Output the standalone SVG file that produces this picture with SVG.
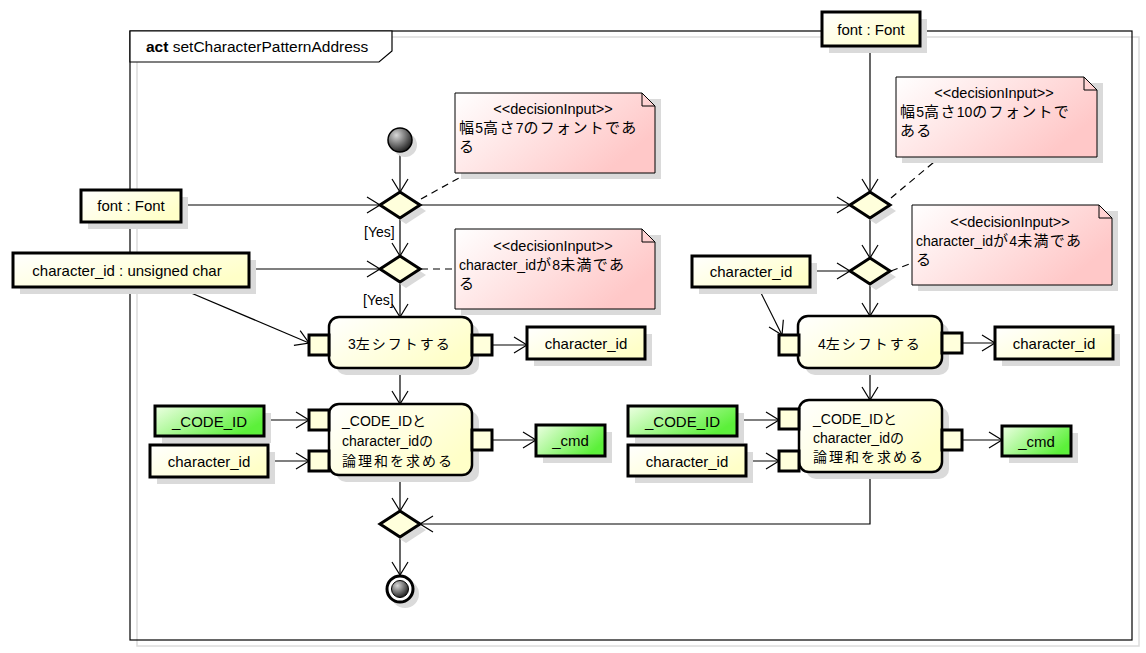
<svg xmlns="http://www.w3.org/2000/svg" width="1146" height="653" viewBox="0 0 1146 653">
<defs>
<style>
text{font-family:"Liberation Sans","Noto Sans CJK JP",sans-serif;fill:#000}
.cj{font-family:"Noto Sans CJK JP","Liberation Sans",sans-serif}
.ncj{font-size:15px;letter-spacing:1.3px}
.acj{font-size:14px;letter-spacing:2px}
.sh{fill:#dadada;stroke:none}
.obj{fill:url(#gy);stroke:#000;stroke-width:3}
.objg{fill:url(#gg);stroke:#000;stroke-width:3}
.act{fill:url(#gy);stroke:#000;stroke-width:2.5}
.pin{fill:#ffffdc;stroke:#000;stroke-width:3}
.dec{fill:#ffffdc;stroke:#000;stroke-width:3;stroke-linejoin:miter}
.note{fill:url(#gn);stroke:#000;stroke-width:1}
.ot{font-size:15px;text-anchor:middle}
.at{font-size:14px}
.st{font-size:14.5px;text-anchor:middle}
.nt{font-size:14px}
.c{fill:none;stroke:#000;stroke-width:1.2}
.d{fill:none;stroke:#000;stroke-width:1.2;stroke-dasharray:7,5}
</style>
<linearGradient id="gy" x1="0" y1="0" x2="1" y2="0.6">
<stop offset="0" stop-color="#ffffff"/><stop offset="1" stop-color="#ffffc8"/>
</linearGradient>
<linearGradient id="gg" x1="0" y1="0" x2="1" y2="0.5">
<stop offset="0" stop-color="#eeffe4"/><stop offset="1" stop-color="#5cf03a"/>
</linearGradient>
<linearGradient id="gn" x1="0" y1="0" x2="1" y2="0.5">
<stop offset="0" stop-color="#ffffff"/><stop offset="1" stop-color="#ffc8c8"/>
</linearGradient>
<radialGradient id="gi" cx="0.35" cy="0.3" r="0.75">
<stop offset="0" stop-color="#d8d8d8"/><stop offset="1" stop-color="#1a1a1a"/>
</radialGradient>
<marker id="arr" markerUnits="userSpaceOnUse" markerWidth="16" markerHeight="20" viewBox="-14 -10 16 20" refX="0" refY="0" orient="auto" overflow="visible">
<path d="M-13,-8 L0,0 L-13,8" fill="none" stroke="#000" stroke-width="1.2"/>
</marker>
</defs>
<rect width="1146" height="653" fill="#fff"/>

<g id="frame">
<rect x="137" y="37" width="1002" height="609" fill="none" stroke="#dcdcdc" stroke-width="1.5"/>
<rect x="130" y="31" width="1002" height="609" fill="none" stroke="#000" stroke-width="1.2"/>
<polygon points="130,31 392,31 392,51 379,62 130,62" fill="#fff" stroke="#000" stroke-width="1.2"/>
<text x="146" y="52" style="font-size:15.5px"><tspan font-weight="bold">act</tspan> setCharacterPatternAddress</text>
</g>

<g id="connectors">
<path class="c" d="M400,152 L400,192" marker-end="url(#arr)"/>
<path class="c" d="M181,205 L380,205" marker-end="url(#arr)"/>
<path class="c" d="M420,205 L850,205" marker-end="url(#arr)"/>
<path class="c" d="M870,46 L870,192" marker-end="url(#arr)"/>
<path class="c" d="M400,218 L400,256" marker-end="url(#arr)"/>
<path class="c" d="M249,269 L380,269" marker-end="url(#arr)"/>
<path class="c" d="M177,287 L309,343" marker-end="url(#arr)"/>
<path class="c" d="M400,282 L400,317" marker-end="url(#arr)"/>
<path class="c" d="M492,345 L527,345" marker-end="url(#arr)"/>
<path class="c" d="M400,368 L400,404" marker-end="url(#arr)"/>
<path class="c" d="M264,420 L309,420" marker-end="url(#arr)"/>
<path class="c" d="M268,461 L309,461" marker-end="url(#arr)"/>
<path class="c" d="M492,440 L536,440" marker-end="url(#arr)"/>
<path class="c" d="M400,475 L400,511" marker-end="url(#arr)"/>
<path class="c" d="M400,537 L400,575" marker-end="url(#arr)"/>
<path class="c" d="M870,472 L870,524 L420,524" marker-end="url(#arr)"/>
<path class="c" d="M870,218 L870,258" marker-end="url(#arr)"/>
<path class="c" d="M810,271 L850,271" marker-end="url(#arr)"/>
<path class="c" d="M758,287 L782,335" marker-end="url(#arr)"/>
<path class="c" d="M870,284 L870,316" marker-end="url(#arr)"/>
<path class="c" d="M962,343 L995,343" marker-end="url(#arr)"/>
<path class="c" d="M870,368 L870,400" marker-end="url(#arr)"/>
<path class="c" d="M737,420 L779,420" marker-end="url(#arr)"/>
<path class="c" d="M746,461 L779,461" marker-end="url(#arr)"/>
<path class="c" d="M962,440 L1002,440" marker-end="url(#arr)"/>
<path class="d" d="M421,199 L468,173"/>
<path class="d" d="M421,269 L455,269"/>
<path class="d" d="M891,198 L940,157"/>
<path class="d" d="M891,271 L912,263"/>
<text x="364" y="237" style="font-size:14px">[Yes]</text>
<text x="363" y="305" style="font-size:14px">[Yes]</text>
</g>

<g id="initial">
<circle cx="405" cy="145" r="12" class="sh"/>
<circle cx="400" cy="140" r="12" fill="url(#gi)" stroke="#000" stroke-width="1.5"/>
</g>

<g id="final">
<circle cx="405" cy="594" r="14" class="sh"/>
<circle cx="400" cy="589" r="13" fill="#fff" stroke="#000" stroke-width="3"/>
<circle cx="400" cy="589" r="8.5" fill="url(#gi)" stroke="#000" stroke-width="1"/>
</g>

<g id="dec_L1">
<polygon class="sh" points="386,211 406,198 426,211 406,224"/>
<polygon class="dec" points="380,205 400,192 420,205 400,218"/>
</g>
<g id="dec_L2">
<polygon class="sh" points="386,275 406,262 426,275 406,288"/>
<polygon class="dec" points="380,269 400,256 420,269 400,282"/>
</g>
<g id="dec_R1">
<polygon class="sh" points="856,211 876,198 896,211 876,224"/>
<polygon class="dec" points="850,205 870,192 890,205 870,218"/>
</g>
<g id="dec_R2">
<polygon class="sh" points="856,277 876,264 896,277 876,290"/>
<polygon class="dec" points="850,271 870,258 890,271 870,284"/>
</g>
<g id="merge">
<polygon class="sh" points="386,530 406,517 426,530 406,543"/>
<polygon class="dec" points="380,524 400,511 420,524 400,537"/>
</g>

<g id="obj_font_L">
<rect class="sh" x="88" y="197" width="100" height="32"/>
<rect class="obj" x="81" y="190" width="100" height="32"/>
<text class="ot" x="131" y="211">font : Font</text>
</g>
<g id="obj_charid_uc">
<rect class="sh" x="20" y="260" width="236" height="34"/>
<rect class="obj" x="13" y="253" width="236" height="34"/>
<text class="ot" x="127" y="276">character_id : unsigned char</text>
</g>
<g id="obj_font_top">
<rect class="sh" x="829" y="19" width="98" height="34"/>
<rect class="obj" x="822" y="12" width="98" height="34"/>
<text class="ot" x="871" y="35">font : Font</text>
</g>
<g id="obj_charid_R">
<rect class="sh" x="699" y="263" width="118" height="31"/>
<rect class="obj" x="692" y="256" width="118" height="31"/>
<text class="ot" x="751" y="277">character_id</text>
</g>
<g id="obj_out_L">
<rect class="sh" x="534" y="334" width="118" height="32"/>
<rect class="obj" x="527" y="327" width="118" height="32"/>
<text class="ot" x="586" y="349">character_id</text>
</g>
<g id="obj_out_R">
<rect class="sh" x="1002" y="334" width="118" height="32"/>
<rect class="obj" x="995" y="327" width="118" height="32"/>
<text class="ot" x="1054" y="349">character_id</text>
</g>
<g id="obj_code_L">
<rect class="sh" x="162" y="413" width="109" height="30"/>
<rect class="objg" x="155" y="406" width="109" height="30"/>
<text class="ot" x="209.5" y="427">_CODE_ID</text>
</g>
<g id="obj_cid_L">
<rect class="sh" x="157" y="452" width="118" height="32"/>
<rect class="obj" x="150" y="445" width="118" height="32"/>
<text class="ot" x="209" y="467">character_id</text>
</g>
<g id="obj_cmd_L">
<rect class="sh" x="543" y="432" width="69" height="31"/>
<rect class="objg" x="536" y="425" width="69" height="31"/>
<text class="ot" x="570.5" y="446">_cmd</text>
</g>
<g id="obj_code_R">
<rect class="sh" x="635" y="413" width="109" height="30"/>
<rect class="objg" x="628" y="406" width="109" height="30"/>
<text class="ot" x="682.5" y="427">_CODE_ID</text>
</g>
<g id="obj_cid_R">
<rect class="sh" x="635" y="452" width="118" height="31"/>
<rect class="obj" x="628" y="445" width="118" height="31"/>
<text class="ot" x="687" y="467">character_id</text>
</g>
<g id="obj_cmd_R">
<rect class="sh" x="1009" y="433" width="69" height="30"/>
<rect class="objg" x="1002" y="426" width="69" height="30"/>
<text class="ot" x="1036.5" y="447">_cmd</text>
</g>

<g id="act_L1">
<rect class="sh" x="336" y="324" width="143" height="51" rx="10"/>
<rect class="act" x="329" y="317" width="143" height="51" rx="10"/>
<rect class="pin" x="309" y="335" width="20" height="20"/>
<rect class="pin" x="472" y="335" width="20" height="20"/>
<text x="348" y="349" class="at">3<tspan class="cj acj">左シフトする</tspan></text>
</g>
<g id="act_L2">
<rect class="sh" x="336" y="411" width="143" height="71" rx="10"/>
<rect class="act" x="329" y="404" width="143" height="71" rx="10"/>
<rect class="pin" x="309" y="410" width="20" height="20"/>
<rect class="pin" x="309" y="451" width="20" height="20"/>
<rect class="pin" x="472" y="430" width="20" height="20"/>
<text x="342" y="426" class="at">_CODE_ID<tspan class="cj acj">と</tspan></text>
<text x="342" y="446" class="at">character_id<tspan class="cj acj">の</tspan></text>
<text x="342" y="466" class="at"><tspan class="cj acj">論理和を求める</tspan></text>
</g>
<g id="act_R1">
<rect class="sh" x="805" y="323" width="144" height="52" rx="10"/>
<rect class="act" x="798" y="316" width="144" height="52" rx="10"/>
<rect class="pin" x="779" y="335" width="20" height="20"/>
<rect class="pin" x="942" y="333" width="20" height="20"/>
<text x="818" y="349" class="at">4<tspan class="cj acj">左シフトする</tspan></text>
</g>
<g id="act_R2">
<rect class="sh" x="806" y="407" width="143" height="72" rx="10"/>
<rect class="act" x="799" y="400" width="143" height="72" rx="10"/>
<rect class="pin" x="779" y="409" width="20" height="20"/>
<rect class="pin" x="779" y="451" width="20" height="20"/>
<rect class="pin" x="942" y="430" width="20" height="20"/>
<text x="813" y="424" class="at">_CODE_ID<tspan class="cj acj">と</tspan></text>
<text x="813" y="443" class="at">character_id<tspan class="cj acj">の</tspan></text>
<text x="813" y="462" class="at"><tspan class="cj acj">論理和を求める</tspan></text>
</g>

<g id="note_L1">
<rect class="sh" x="461" y="99" width="200" height="80"/>
<path class="note" d="M455,93 L642,93 L655,106 L655,173 L455,173 Z"/>
<path d="M642,93 L642,106 L655,106" fill="none" stroke="#000" stroke-width="1"/>
<text class="st" x="553" y="114">&lt;&lt;decisionInput&gt;&gt;</text>
<text class="nt" x="459" y="133"><tspan class="cj ncj">幅</tspan>5<tspan class="cj ncj">高さ</tspan>7<tspan class="cj ncj">のフォントであ</tspan></text>
<text class="nt" x="459" y="152"><tspan class="cj ncj">る</tspan></text>
</g>
<g id="note_L2">
<rect class="sh" x="461" y="235" width="200" height="80"/>
<path class="note" d="M455,229 L642,229 L655,242 L655,309 L455,309 Z"/>
<path d="M642,229 L642,242 L655,242" fill="none" stroke="#000" stroke-width="1"/>
<text class="st" x="553" y="251">&lt;&lt;decisionInput&gt;&gt;</text>
<text class="nt" x="459" y="270">character_id<tspan class="cj ncj">が</tspan>8<tspan class="cj ncj">未満であ</tspan></text>
<text class="nt" x="459" y="289"><tspan class="cj ncj">る</tspan></text>
</g>
<g id="note_R1">
<rect class="sh" x="902" y="83" width="201" height="80"/>
<path class="note" d="M896,77 L1084,77 L1097,90 L1097,157 L896,157 Z"/>
<path d="M1084,77 L1084,90 L1097,90" fill="none" stroke="#000" stroke-width="1"/>
<text class="st" x="994" y="98">&lt;&lt;decisionInput&gt;&gt;</text>
<text class="nt" x="900" y="117"><tspan class="cj ncj">幅</tspan>5<tspan class="cj ncj">高さ</tspan>10<tspan class="cj ncj">のフォントで</tspan></text>
<text class="nt" x="900" y="136"><tspan class="cj ncj">ある</tspan></text>
</g>
<g id="note_R2">
<rect class="sh" x="918" y="211" width="200" height="80"/>
<path class="note" d="M912,205 L1099,205 L1112,218 L1112,285 L912,285 Z"/>
<path d="M1099,205 L1099,218 L1112,218" fill="none" stroke="#000" stroke-width="1"/>
<text class="st" x="1010" y="227">&lt;&lt;decisionInput&gt;&gt;</text>
<text class="nt" x="916" y="246">character_id<tspan class="cj ncj">が</tspan>4<tspan class="cj ncj">未満であ</tspan></text>
<text class="nt" x="916" y="265"><tspan class="cj ncj">る</tspan></text>
</g>
</svg>
